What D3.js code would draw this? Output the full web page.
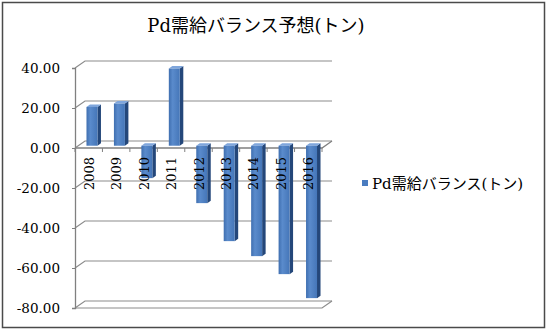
<!DOCTYPE html>
<html>
<head>
<meta charset="utf-8">
<script src="https://d3js.org/d3.v7.min.js"></script>
<style>
  body { margin: 0; background: #fff; }
  text { font-family: "DejaVu Serif", "Noto Sans CJK JP", serif; fill: #000; }
</style>
</head>
<body>
<svg id="chart" width="550" height="331"></svg>
<script>
const years = ["2008", "2009", "2010", "2011", "2012", "2013", "2014", "2015", "2016"];
const balance = [19.4, 21.1, -16.2, 38.6, -28.7, -47.7, -55.2, -64.2, -76.2];
const yTicks = [40, 20, 0, -20, -40, -60, -80];
const seriesName = "Pd需給バランス(トン)";
const chartTitle = "Pd需給バランス予想(トン)";

const data = years.map((y, i) => ({ year: y, value: balance[i] }));

const svg = d3.select("#chart");

// outer frame
svg.append("rect")
    .attr("x", 2.5).attr("y", 2.5)
    .attr("width", 542).attr("height", 325)
    .attr("fill", "#fff")
    .attr("stroke", "#4a4a4a")
    .attr("stroke-width", 1.5);

// 3D depth offset of the back wall
const depthX = 10, depthY = -7;

const x = d3.scaleBand()
    .domain(years)
    .range([75, 322])
    .padding(0);

const y = d3.scaleLinear()
    .domain([-80, 40])
    .range([308, 68]);

// back wall gridlines with slanted joins to the front axis
const grid = svg.append("g");
yTicks.forEach(t => {
    const yy = y(t);
    grid.append("path")
        .attr("d", `M75,${yy}L${75 + depthX},${yy + depthY}L${322 + depthX},${yy + depthY}`)
        .attr("fill", "none")
        .attr("stroke", "#8c8c8c")
        .attr("stroke-width", 1.2);
});

// floor at the bottom
svg.append("path")
    .attr("d", `M75,${y(-80)}L322,${y(-80)}L${322 + depthX},${y(-80) + depthY}`)
    .attr("fill", "none")
    .attr("stroke", "#8c8c8c")
    .attr("stroke-width", 1.2);

// y axis (front)
svg.append("g")
    .attr("transform", "translate(75,0)")
    .call(d3.axisLeft(y).tickValues(yTicks).tickSize(3).tickPadding(12)
        .tickFormat(d => d.toFixed(2)))
    .call(g => g.select(".domain").attr("stroke", "#808080").attr("stroke-width", 1.3))
    .call(g => g.selectAll(".tick line").attr("stroke", "#808080"))
    .call(g => g.selectAll(".tick text")
        .attr("font-family", "DejaVu Serif")
        .attr("font-size", 13.5)
        .attr("fill", "#000"));

// category axis at zero, with slant to the back
const zeroY = y(0);
svg.append("path")
    .attr("d", `M75,${zeroY}L322,${zeroY}L${322 + depthX},${zeroY + depthY}`)
    .attr("fill", "none")
    .attr("stroke", "#808080")
    .attr("stroke-width", 1.3);

svg.append("g").selectAll("line")
    .data(years.map(d => x(d)).concat([322]))
    .join("line")
    .attr("x1", d => d).attr("x2", d => d)
    .attr("y1", zeroY).attr("y2", zeroY + 4)
    .attr("stroke", "#808080");

// bars drawn halfway into the depth
const defs = svg.append("defs");
const grad = defs.append("linearGradient").attr("id", "front")
    .attr("x1", "0%").attr("x2", "100%");
grad.append("stop").attr("offset", "0%").attr("stop-color", "#3f6fb0");
grad.append("stop").attr("offset", "35%").attr("stop-color", "#5a8bcc");
grad.append("stop").attr("offset", "100%").attr("stop-color", "#4576b8");

const barW = x.bandwidth() * 0.4;
const fx = depthX * 0.325, fy = depthY * 0.325;     // bar front face position
const bx = depthX * 0.35, by = depthY * 0.35;       // bar depth
const baseY = y(0) + fy;

const bars = svg.append("g").selectAll("g")
    .data(data)
    .join("g");

bars.each(function (d) {
    const g = d3.select(this);
    const left = x(d.year) + x.bandwidth() / 2 + fx - barW / 2;
    const right = left + barW;
    const vY = y(d.value) - y(0) + baseY;
    const top = Math.min(baseY, vY), bottom = Math.max(baseY, vY);

    g.append("path")
        .attr("d", `M${right},${top}L${right + bx},${top + by}L${right + bx},${bottom + by}L${right},${bottom}Z`)
        .attr("fill", "#24477a");
    g.append("path")
        .attr("d", `M${left},${top}L${right},${top}L${right + bx},${top + by}L${left + bx},${top + by}Z`)
        .attr("fill", "#7fa6dc");
    g.append("rect")
        .attr("x", left).attr("y", top)
        .attr("width", barW).attr("height", bottom - top)
        .attr("fill", "url(#front)");
});

// category labels, rotated
svg.append("g").selectAll("text")
    .data(years)
    .join("text")
    .attr("transform", d => `translate(${x(d) + x.bandwidth() / 2 + 5},157) rotate(-90)`)
    .attr("text-anchor", "end")
    .attr("font-size", 13)
    .text(d => d);

// title
svg.append("text")
    .attr("x", 256)
    .attr("y", 32)
    .attr("text-anchor", "middle")
    .attr("font-size", 18)
    .text(chartTitle);

// legend
svg.append("rect")
    .attr("x", 362).attr("y", 180)
    .attr("width", 6).attr("height", 6)
    .attr("fill", "#4a7cc0");
svg.append("text")
    .attr("x", 372)
    .attr("y", 188.5)
    .attr("font-size", 15)
    .text(seriesName);
</script>
</body>
</html>
